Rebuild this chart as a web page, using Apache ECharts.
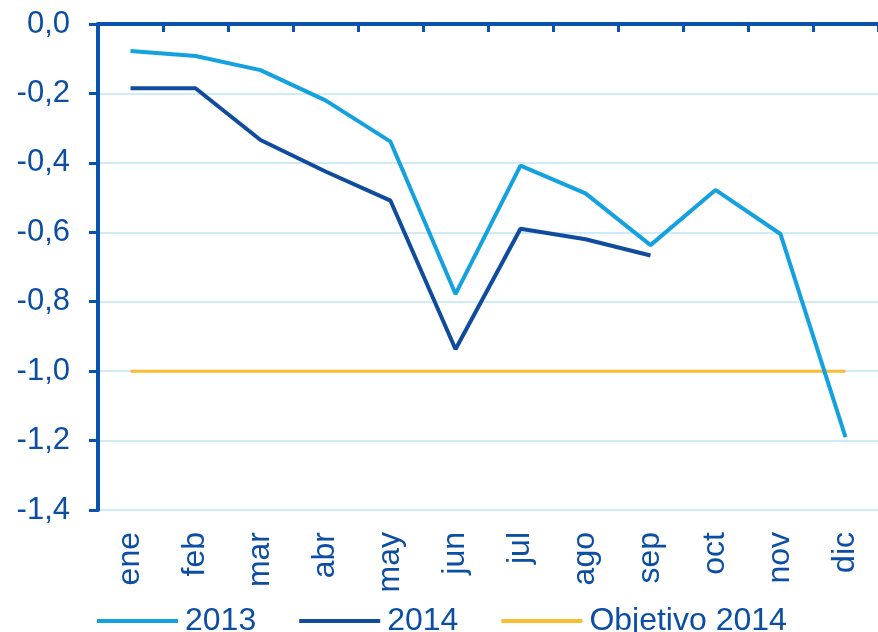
<!DOCTYPE html>
<html>
<head>
<meta charset="utf-8">
<script src="https://cdn.jsdelivr.net/npm/echarts@6/dist/echarts.min.js"></script>
<style>
  html, body { margin: 0; padding: 0; background: #fff; }
  #chart { width: 878px; height: 632px; }
</style>
</head>
<body>
<div id="chart"></div>
<script>
const months = ['ene', 'feb', 'mar', 'abr', 'may', 'jun', 'jul', 'ago', 'sep', 'oct', 'nov', 'dic']
const serie2013 = [-0.078, -0.092, -0.133, -0.22, -0.339, -0.778, -0.408, -0.488, -0.637, -0.478, -0.605, -1.19]
const serie2014 = [-0.185, -0.185, -0.334, -0.425, -0.509, -0.937, -0.59, -0.62, -0.667]
const objetivo = [-1, -1, -1, -1, -1, -1, -1, -1, -1, -1, -1, -1]

const textColor = '#0c4ea4'
const axisColor = '#0a52b0'
const font = 'Liberation Sans, Arial, sans-serif'

const chart = echarts.init(document.getElementById('chart'))
chart.setOption({
  animation: false,
  grid: { left: 98, top: 24, right: -4, bottom: 122, containLabel: false },
  legend: {
    left: 92,
    top: 600,
    icon: 'rect',
    itemWidth: 81,
    itemHeight: 4,
    itemGap: 43,
    textStyle: { color: textColor, fontSize: 32, fontFamily: font, padding: [0, 0, 0, 2] },
    data: ['2013', '2014', 'Objetivo 2014']
  },
  xAxis: [
    {
      // axis line at zero, on top
      type: 'category',
      position: 'top',
      data: months,
      boundaryGap: true,
      axisLine: { show: true, lineStyle: { color: axisColor, width: 4 } },
      axisTick: { show: true, inside: true, length: 8, lineStyle: { color: axisColor, width: 3 } },
      axisLabel: { show: false },
      splitLine: { show: false }
    },
    {
      // labels at the bottom
      type: 'category',
      position: 'bottom',
      data: months,
      boundaryGap: true,
      axisLine: { show: false },
      axisTick: { show: false },
      axisLabel: {
        rotate: 90,
        margin: 22,
        color: textColor,
        fontSize: 32,
        fontFamily: font
      },
      splitLine: { show: false }
    }
  ],
  yAxis: {
    type: 'value',
    min: -1.4,
    max: 0,
    interval: 0.2,
    axisLine: { show: true, onZero: false, lineStyle: { color: axisColor, width: 4 } },
    axisTick: { show: true, length: 9, lineStyle: { color: axisColor, width: 3 } },
    axisLabel: {
      margin: 28,
      color: textColor,
      fontSize: 31,
      fontFamily: font,
      formatter: v => v.toFixed(1).replace('.', ',')
    },
    splitLine: { show: true, lineStyle: { color: '#cfeaf8', width: 2 } }
  },
  series: [
    {
      name: '2013',
      type: 'line',
      data: serie2013,
      symbol: 'none',
      color: '#13a1df',
      lineStyle: { width: 4 },
      z: 3
    },
    {
      name: '2014',
      type: 'line',
      data: serie2014,
      symbol: 'none',
      color: '#0f4c9e',
      lineStyle: { width: 4 },
      z: 4
    },
    {
      name: 'Objetivo 2014',
      type: 'line',
      data: objetivo,
      symbol: 'none',
      color: '#fbbd30',
      lineStyle: { width: 3 },
      z: 2
    }
  ]
})
</script>
</body>
</html>
